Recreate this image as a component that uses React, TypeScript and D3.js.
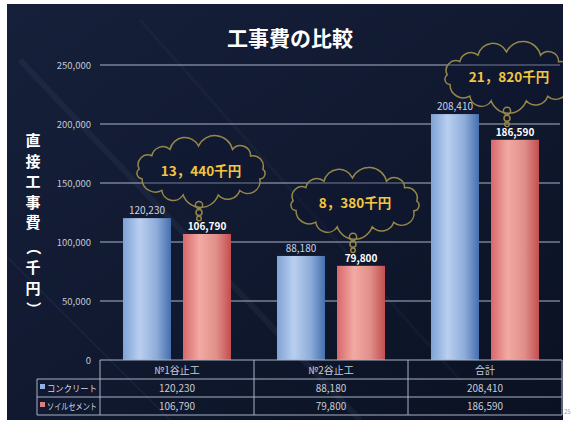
import React from "react";
import * as d3 from "d3";

// Categories and series
const categories = ["№1谷止工", "№2谷止工", "合計"];
const seriesNames = ["コンクリート", "ソイルセメント"];
const concreteValues = [120230, 88180, 208410];
const soilCementValues = [106790, 79800, 186590];
const yTicks = [0, 50000, 100000, 150000, 200000, 250000];
const chartTitle = "工事費の比較";
const yTitleChars = ["直", "接", "工", "事", "費", "（", "千", "円", "）"];

const W = 571;
const H = 426;
const panel = { x: 7, y: 4, w: 556, h: 416 };
const plot = { left: 100, right: 562, top: 65, bottom: 360 };

const fmt = d3.format(",");
const fmtDiff = (v: number) => {
  const s = fmt(v);
  return s.replace(",", "，") + "千円";
};

const JP = "'Noto Sans CJK JP', 'Noto Sans', sans-serif";

// Bumpy outline around an ellipse for the thought-cloud callouts
function cloudPath(cx: number, cy: number, rx: number, ry: number, n: number) {
  const pts: [number, number][] = [];
  for (let i = 0; i < n; i++) {
    const a = -Math.PI / 2 + (i / n) * Math.PI * 2 + (i % 2 ? 0.05 : -0.04);
    pts.push([cx + rx * Math.cos(a), cy + ry * Math.sin(a)]);
  }
  let d = `M${pts[0][0]},${pts[0][1]}`;
  for (let i = 1; i <= n; i++) {
    const p = pts[i % n];
    const q = pts[i - 1];
    const chord = Math.hypot(p[0] - q[0], p[1] - q[1]);
    const r = chord * (i % 3 === 0 ? 0.58 : 0.53);
    d += ` A${r},${r} 0 0 1 ${p[0]},${p[1]}`;
  }
  return d + "Z";
}

export default function App() {
  const x = d3.scaleBand<string>().domain(categories).range([plot.left, plot.right]).paddingInner(0).paddingOuter(0);
  const xs = d3
    .scaleBand<string>()
    .domain(seriesNames)
    .range([0, x.bandwidth()])
    .paddingInner(0.2)
    .paddingOuter(0.383);
  const y = d3.scaleLinear().domain([0, 250000]).range([plot.bottom, plot.top]);

  const rowTop = plot.bottom;
  const rows = [rowTop, rowTop + 19, rowTop + 37, rowTop + 55];
  const legendLeft = 37;

  return (
    <svg
      width={W}
      height={H}
      style={{ position: "absolute", left: 0, top: 0, display: "block", background: "#fff" }}
    >
      <defs>
        <linearGradient id="bg" x1="0" y1="0" x2="1" y2="1">
          <stop offset="0%" stopColor="#16203a" />
          <stop offset="45%" stopColor="#111a31" />
          <stop offset="100%" stopColor="#0a1122" />
        </linearGradient>
        <linearGradient id="blueBar" x1="0" y1="0" x2="1" y2="0">
          <stop offset="0%" stopColor="#7fa2d6" />
          <stop offset="35%" stopColor="#b9cff0" />
          <stop offset="70%" stopColor="#8eacd9" />
          <stop offset="100%" stopColor="#456fae" />
        </linearGradient>
        <linearGradient id="redBar" x1="0" y1="0" x2="1" y2="0">
          <stop offset="0%" stopColor="#d8686a" />
          <stop offset="35%" stopColor="#f2aaa3" />
          <stop offset="70%" stopColor="#e08e88" />
          <stop offset="100%" stopColor="#c24e50" />
        </linearGradient>
        <clipPath id="panelClip">
          <rect x={panel.x} y={panel.y} width={panel.w} height={panel.h} />
        </clipPath>
      </defs>

      <rect x={panel.x} y={panel.y} width={panel.w} height={panel.h} fill="url(#bg)" />
      <g clipPath="url(#panelClip)" stroke="#8fa3c8" fill="none">
        <line x1={20} y1={60} x2={360} y2={420} strokeOpacity={0.07} strokeWidth={6} />
        <line x1={140} y1={20} x2={460} y2={380} strokeOpacity={0.05} strokeWidth={3} />
        <line x1={0} y1={250} x2={170} y2={420} strokeOpacity={0.06} strokeWidth={2} />
      </g>

      {/* Title */}
      <text x={290} y={46} textAnchor="middle" fill="#ffffff" fontFamily={JP} fontWeight={700} fontSize={21}>
        {chartTitle}
      </text>

      {/* Vertical axis title */}
      {yTitleChars.map((c, i) => (
        <text
          key={i}
          x={33}
          y={146 + i * 20.5 + (i >= 5 ? 4 : 0)}
          textAnchor="middle"
          fill="#ffffff"
          fontFamily={JP}
          fontWeight={700}
          fontSize={15}
          transform={i === 5 || i === 8 ? `rotate(90 33 ${141 + i * 20.5 + 4})` : undefined}
        >
          {c}
        </text>
      ))}

      {/* Gridlines and tick labels */}
      {yTicks.map((t) => (
        <g key={t}>
          {t > 0 && (
            <line x1={plot.left} x2={plot.right - 2} y1={y(t)} y2={y(t)} stroke="#aab3c6" strokeWidth={1.2} />
          )}
          <text
            x={91}
            y={y(t) + 3.5}
            textAnchor="end"
            fill="#c3c9d6"
            fontFamily={JP}
            fontSize={9.5}
          >
            {fmt(t)}
          </text>
        </g>
      ))}

      {/* Bars and value labels */}
      {categories.map((c, i) => {
        const bx = x(c)!;
        const b1 = bx + xs(seriesNames[0])!;
        const b2 = bx + xs(seriesNames[1])!;
        const bw = xs.bandwidth();
        return (
          <g key={c}>
            <rect x={b1} y={y(concreteValues[i])} width={bw} height={y(0) - y(concreteValues[i])} fill="url(#blueBar)" />
            <rect x={b2} y={y(soilCementValues[i])} width={bw} height={y(0) - y(soilCementValues[i])} fill="url(#redBar)" />
            <text
              x={b1 + bw / 2}
              y={y(concreteValues[i]) - 4}
              textAnchor="middle"
              fill="#c8d2e6"
              fontFamily={JP}
              fontSize={10}
            >
              {fmt(concreteValues[i])}
            </text>
            <text
              x={b2 + bw / 2}
              y={y(soilCementValues[i]) - 4}
              textAnchor="middle"
              fill="#ffffff"
              fontFamily={JP}
              fontWeight={700}
              fontSize={10}
            >
              {fmt(soilCementValues[i])}
            </text>
          </g>
        );
      })}

      {/* Difference callouts */}
      <g clipPath="url(#panelClip)">
        {categories.map((c, i) => {
          const bw = xs.bandwidth();
          const redCx = x(c)! + xs(seriesNames[1])! + bw / 2;
          const top = y(soilCementValues[i]);
          const cx = redCx - 6;
          const cy = top - 63;
          const bx = redCx - 8;
          return (
            <g key={c}>
              <path d={cloudPath(cx, cy, 62, 25, 13)} fill="#0f1830" fillOpacity={0.35} stroke="#968749" strokeWidth={1.5} />
              <circle cx={bx} cy={top - 29} r={3.6} fill="none" stroke="#968749" strokeWidth={1.5} />
              <circle cx={bx} cy={top - 21.5} r={3} fill="none" stroke="#968749" strokeWidth={1.5} />
              <circle cx={bx} cy={top - 15.5} r={2.3} fill="none" stroke="#968749" strokeWidth={1.4} />
              <text
                x={cx}
                y={cy + 5}
                textAnchor="middle"
                fill="#f4c53e"
                fontFamily={JP}
                fontWeight={700}
                fontSize={13.5}
              >
                {fmtDiff(concreteValues[i] - soilCementValues[i])}
              </text>
            </g>
          );
        })}
      </g>

      {/* Data table */}
      <g stroke="#a9b1c2" strokeWidth={1} fill="none">
        <line x1={plot.left} x2={plot.right} y1={rows[0]} y2={rows[0]} />
        <line x1={legendLeft} x2={plot.right} y1={rows[1]} y2={rows[1]} />
        <line x1={legendLeft} x2={plot.right} y1={rows[2]} y2={rows[2]} />
        <line x1={legendLeft} x2={plot.right} y1={rows[3]} y2={rows[3]} />
        <line x1={legendLeft} x2={legendLeft} y1={rows[1]} y2={rows[3]} />
        <line x1={plot.left} x2={plot.left} y1={rows[0]} y2={rows[3]} />
        {categories.map((c) => (
          <line key={c} x1={x(c)! + x.bandwidth()} x2={x(c)! + x.bandwidth()} y1={rows[0]} y2={rows[3]} />
        ))}
      </g>
      {categories.map((c) => (
        <text
          key={c}
          x={x(c)! + x.bandwidth() / 2}
          y={rows[0] + 13.5}
          textAnchor="middle"
          fill="#c8cdd8"
          fontFamily={JP}
          fontSize={10}
        >
          {c}
        </text>
      ))}
      {[concreteValues, soilCementValues].map((vals, r) => (
        <g key={r}>
          <rect x={legendLeft + 3} y={rows[r + 1] + 5} width={5} height={5} fill={r === 0 ? "#8fb2e0" : "#e07f7f"} />
          <text x={legendLeft + 10} y={rows[r + 1] + 12.5} fill="#d2d6e0" fontFamily={JP} fontSize={9} textLength={50} lengthAdjust="spacingAndGlyphs">
            {seriesNames[r]}
          </text>
          {categories.map((c, i) => (
            <text
              key={c}
              x={x(c)! + x.bandwidth() / 2}
              y={rows[r + 1] + 12.5}
              textAnchor="middle"
              fill="#c8cdd8"
              fontFamily={JP}
              fontSize={10}
            >
              {fmt(vals[i])}
            </text>
          ))}
        </g>
      ))}

      {/* Page number */}
      <text x={564} y={414} fill="#9aa0aa" fontFamily={JP} fontSize={6}>
        25
      </text>
    </svg>
  );
}
